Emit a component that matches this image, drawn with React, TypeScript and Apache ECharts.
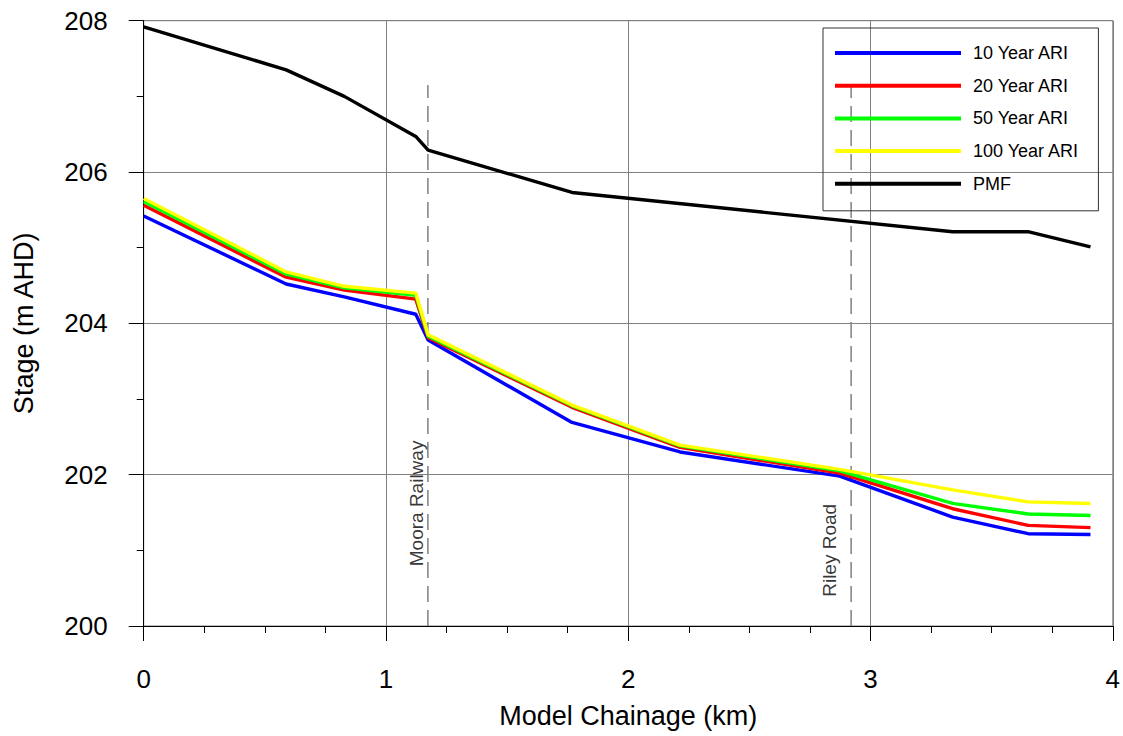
import React, { useEffect, useRef } from "react";
import * as echarts from "echarts";

const chainage10 = [0, 0.588, 0.828, 1.123, 1.174, 1.768, 2.214, 2.873, 3.339, 3.651, 3.908];
const ari10 = [205.42, 204.52, 204.35, 204.12, 203.78, 202.69, 202.3, 201.98, 201.44, 201.22, 201.21];
const ari20 = [205.56, 204.61, 204.44, 204.32, 203.81, 202.89, 202.36, 202.02, 201.55, 201.33, 201.3];
const ari50 = [205.61, 204.65, 204.47, 204.37, 203.83, 202.91, 202.38, 202.05, 201.62, 201.48, 201.46];
const ari100 = [205.65, 204.68, 204.49, 204.4, 203.85, 202.92, 202.39, 202.07, 201.8, 201.64, 201.62];

const chainagePMF = [0, 0.588, 0.828, 1.123, 1.174, 1.768, 3.339, 3.654, 3.908];
const pmf = [207.92, 207.35, 207.0, 206.47, 206.29, 205.73, 205.21, 205.21, 205.01];

const structureNames = ["Moora Railway", "Riley Road"];
const structureChainage = [1.173, 2.92];
const structureLineTop = 207.15;
const structureLabelX = [1.124, 2.829];
const structureLabelY = [201.62, 201.0];

const seriesNames = ["10 Year ARI", "20 Year ARI", "50 Year ARI", "100 Year ARI", "PMF"];
const seriesColors = ["#0000ff", "#ff0000", "#00ff00", "#ffff00", "#000000"];

const FONT = "'Liberation Sans', Arial, sans-serif";

export default function App() {
  const ref = useRef<HTMLDivElement>(null);
  useEffect(() => {
    if (!ref.current) return;
    const chart = echarts.init(ref.current, null, { renderer: "svg" });
    const pair = (xs: number[], ys: number[]) => xs.map((x, i) => [x, ys[i]]);
    const floodData = [ari10, ari20, ari50, ari100];
    const lineSeries: any[] = floodData.map((d, i) => ({
      name: seriesNames[i],
      type: "line",
      data: pair(chainage10, d),
      showSymbol: false,
      symbol: "none",
      lineStyle: { color: seriesColors[i], width: 3.4 },
      itemStyle: { color: seriesColors[i] },
      z: 3 + i,
    }));
    lineSeries.push({
      name: seriesNames[4],
      type: "line",
      data: pair(chainagePMF, pmf),
      symbol: "none",
      lineStyle: { color: seriesColors[4], width: 3.4 },
      itemStyle: { color: seriesColors[4] },
      z: 8,
    });
    const structSeries: any[] = structureNames.map((n, i) => ({
      name: n,
      type: "line",
      data: [
        [structureChainage[i], 200],
        [structureChainage[i], structureLineTop],
      ],
      symbol: "none",
      lineStyle: { color: "#808080", width: 1.5, type: [16, 8] },
      z: 2,
      silent: true,
    }));
    const labelSeries = {
      name: "labels",
      type: "scatter",
      symbolSize: 0,
      itemStyle: { color: "#000" },
      data: structureNames.map((n, i) => ({ name: n, value: [structureLabelX[i], structureLabelY[i]] })),
      label: {
        show: true,
        position: "inside",
        rotate: 90,
        formatter: (p: any) => p.name,
        fontSize: 19,
        fontFamily: FONT,
        color: "#000",
        textBorderWidth: 0,
        textBorderColor: "transparent",
        align: "center",
        verticalAlign: "middle",
      },
      z: 10,
      silent: true,
    };

    chart.setOption({
      animation: false,
      backgroundColor: "#ffffff",
      grid: {
        left: 143.7,
        right: 7.3,
        top: 20.7,
        bottom: 110,
        show: true,
        borderColor: "#808080",
        borderWidth: 1,
      },
      legend: {
        data: seriesNames,
        orient: "vertical",
        left: 823,
        top: 28,
        padding: [15, 19, 17, 12],
        itemWidth: 126,
        itemHeight: 4,
        itemGap: 12.7,
        icon: "rect",
        borderColor: "#333333",
        borderWidth: 1,
        backgroundColor: "transparent",
        textStyle: {
          fontSize: 18,
          fontFamily: FONT,
          color: "#000",
          lineHeight: 20,
          padding: [0, 0, 0, 7],
        },
      },
      xAxis: {
        type: "value",
        min: 0,
        max: 4,
        interval: 1,
        name: "Model Chainage (km)",
        nameLocation: "middle",
        nameGap: 76,
        nameTextStyle: { fontSize: 27, fontFamily: FONT, color: "#000" },
        axisLine: { show: true, onZero: false, lineStyle: { color: "#000", width: 1 } },
        axisTick: { show: true, inside: false, length: 15, lineStyle: { color: "#000" } },
        minorTick: { show: true, splitNumber: 4, length: 7, lineStyle: { color: "#000" } },
        axisLabel: { fontSize: 26, fontFamily: FONT, color: "#000", margin: 40 },
        splitLine: { show: true, lineStyle: { color: "#808080", width: 1 } },
      },
      yAxis: {
        type: "value",
        min: 200,
        max: 208,
        interval: 2,
        name: "Stage (m AHD)",
        nameLocation: "middle",
        nameGap: 106,
        nameTextStyle: { fontSize: 27, fontFamily: FONT, color: "#000" },
        axisLine: { show: true, onZero: false, lineStyle: { color: "#000", width: 1 } },
        axisTick: { show: true, inside: false, length: 15, lineStyle: { color: "#000" } },
        minorTick: { show: true, splitNumber: 2, length: 7, lineStyle: { color: "#000" } },
        axisLabel: { fontSize: 26, fontFamily: FONT, color: "#000", margin: 36 },
        splitLine: { show: true, lineStyle: { color: "#808080", width: 1 } },
      },
      series: [...structSeries, ...lineSeries, labelSeries],
    });
    return () => chart.dispose();
  }, []);
  return (
    <div
      ref={ref}
      style={{ position: "fixed", left: 0, top: 0, width: 1123, height: 736, background: "#fff" }}
    />
  );
}
